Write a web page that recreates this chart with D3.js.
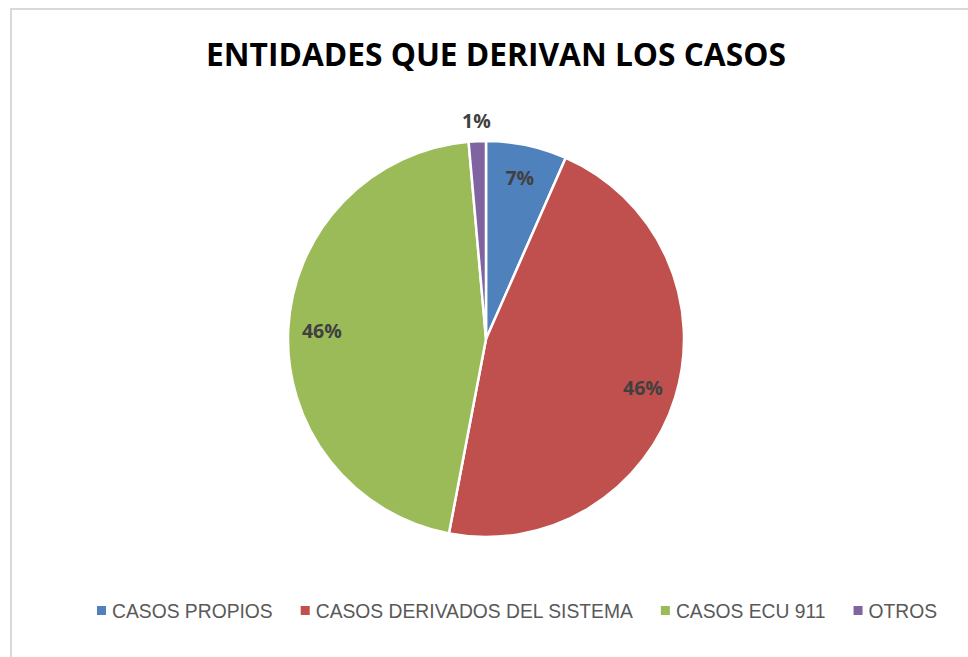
<!DOCTYPE html>
<html>
<head>
<meta charset="utf-8">
<script src="https://cdn.jsdelivr.net/npm/d3@7"></script>
<style>
  body { margin: 0; background: #fff; }
  svg { display: block; }
</style>
</head>
<body>
<svg id="chart" width="968" height="657"></svg>
<script>
// chart data
var categories = ['CASOS PROPIOS', 'CASOS DERIVADOS DEL SISTEMA', 'CASOS ECU 911', 'OTROS'];
var shares = [6.6, 46.4, 45.6, 1.4];
var labels = ['7%', '46%', '46%', '1%'];
var colors = ['#4f81bd', '#c0504d', '#9bbb59', '#8064a2'];

var svg = d3.select('#chart');
var cx = 486, cy = 339, r = 198;

// frame (only top and left edge show in the crop)
svg.append('path')
  .attr('d', 'M11,660 L11,9 L970,9')
  .style('fill', 'none')
  .style('stroke', '#d9d9d9')
  .style('stroke-width', 2);

svg.append('text')
  .attr('x', 496)
  .attr('y', 66)
  .attr('text-anchor', 'middle')
  .style('font-family', '"Open Sans", sans-serif')
  .style('font-weight', 'bold')
  .style('font-size', '31.7px')
  .style('fill', '#000')
  .text('ENTIDADES QUE DERIVAN LOS CASOS');

var data = categories.map(function(c, i){
  return {name: c, value: shares[i], label: labels[i], color: colors[i]};
});

var pie = d3.pie().sort(null).value(function(d){ return d.value; });
var arc = d3.arc().innerRadius(0).outerRadius(r);
var arcs = pie(data);

var g = svg.append('g').attr('transform', 'translate(' + cx + ',' + cy + ')');

g.selectAll('path.slice')
  .data(arcs)
  .enter()
  .append('path')
  .attr('class', 'slice')
  .attr('d', arc)
  .style('fill', function(d){ return d.data.color; })
  .style('stroke', '#fff')
  .style('stroke-width', 2.5)
  .style('stroke-linejoin', 'round');

g.selectAll('text.lbl')
  .data(arcs)
  .enter()
  .append('text')
  .attr('class', 'lbl')
  .attr('transform', function(d){
    var a = (d.startAngle + d.endAngle) / 2;
    // small slice label sits outside the pie
    var rl = d.data.value < 3 ? r * 1.1 : r * 0.83;
    return 'translate(' + (Math.sin(a) * rl) + ',' + (-Math.cos(a) * rl) + ')';
  })
  .attr('text-anchor', 'middle')
  .attr('dy', '0.35em')
  .style('font-family', '"Open Sans", sans-serif')
  .style('font-weight', 'bold')
  .style('font-size', '19.5px')
  .style('fill', '#404040')
  .text(function(d){ return d.data.label; });

// legend
var legend = svg.append('g').attr('transform', 'translate(0,611)');
var x = 97;
data.forEach(function(d){
  legend.append('rect')
    .attr('x', x)
    .attr('y', -5)
    .attr('width', 9)
    .attr('height', 9)
    .style('fill', d.color);
  var t = legend.append('text')
    .attr('x', x + 15)
    .attr('y', 0)
    .attr('dy', '0.35em')
    .style('font-family', '"Liberation Sans", sans-serif')
    .style('font-size', '19.3px')
    .style('fill', '#595959')
    .text(d.name);
  x += 15 + t.node().getComputedTextLength() + 28;
});
</script>
</body>
</html>
